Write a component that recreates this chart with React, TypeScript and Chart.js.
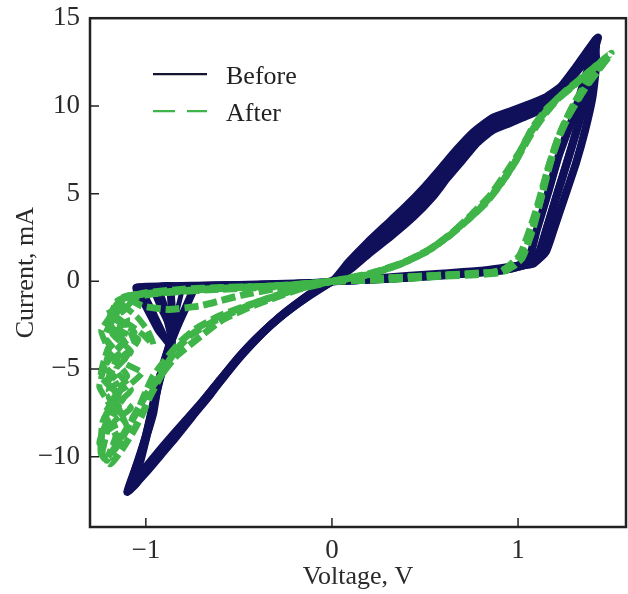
import React, { useEffect, useRef } from 'react';
import { Chart, registerables } from 'chart.js';

Chart.register(...registerables);

// ---------- data ----------
const xTicks = [-1, 0, 1];
const yTicks = [-10, -5, 0, 5, 10, 15];
const xMin = -1.3;
const xMax = 1.58;
const yMin = -14;
const yMax = 15;
const seriesNames = ['Before', 'After'];
const xTitle = 'Voltage, V';
const yTitle = 'Current, mA';

// "Before" cycles (voltage V, current mA)
const before1 = [
  [0, 0], [0.2, 0.1], [0.4, 0.2], [0.6, 0.35], [0.8, 0.5], [0.95, 0.7], [1.05, 1.0], [1.12, 1.8], [1.16, 3.2], [1.21, 5.0], [1.27, 7.0], [1.33, 9.2], [1.38, 11.4], [1.42, 13.8],
  [1.36, 12.8], [1.3, 11.9], [1.22, 10.8], [1.14, 10.2], [1.05, 9.8], [0.95, 9.4], [0.85, 9.0], [0.76, 8.2], [0.68, 7.2], [0.6, 6.2], [0.52, 5.1], [0.42, 4.0], [0.3, 2.9], [0.2, 1.9], [0.1, 0.9], [0, 0],
  [-0.2, -0.15], [-0.4, -0.2], [-0.6, -0.25], [-0.8, -0.3], [-1.05, -0.35],
  [-1.0, -1.4], [-0.93, -2.8], [-0.87, -3.7], [-0.93, -5.6], [-0.96, -7.5], [-1.02, -9.6], [-1.09, -11.8],
  [-1.03, -11.0], [-0.97, -10.2], [-0.9, -9.3], [-0.8, -8.1], [-0.7, -6.9], [-0.6, -5.6], [-0.5, -4.3], [-0.4, -3.2], [-0.3, -2.2], [-0.2, -1.35], [-0.1, -0.6], [0, 0],
];
const before2 = [
  [0, 0], [0.2, 0.15], [0.4, 0.3], [0.6, 0.45], [0.8, 0.6], [0.97, 0.85], [1.08, 1.0], [1.15, 1.7], [1.19, 2.9], [1.25, 4.8], [1.31, 6.7], [1.36, 8.6], [1.4, 10.5], [1.42, 12.4], [1.41, 13.6],
  [1.35, 12.4], [1.28, 11.5], [1.2, 10.4], [1.12, 9.8], [1.04, 9.4], [0.95, 9.0], [0.86, 8.6], [0.78, 7.9], [0.7, 6.9], [0.62, 5.9], [0.54, 4.8], [0.44, 3.7], [0.32, 2.6], [0.2, 1.6], [0.1, 0.7], [0, 0],
  [-0.2, -0.12], [-0.4, -0.18], [-0.6, -0.22], [-0.8, -0.28], [-0.93, -0.32],
  [-0.9, -1.5], [-0.87, -2.8], [-0.86, -3.6], [-0.92, -5.4], [-0.97, -7.6], [-1.03, -10.0], [-1.08, -11.6],
  [-1.01, -10.8], [-0.94, -9.9], [-0.86, -8.9], [-0.77, -7.8], [-0.67, -6.6], [-0.57, -5.3], [-0.47, -4.0], [-0.37, -2.9], [-0.27, -1.95], [-0.18, -1.2], [-0.09, -0.5], [0, 0],
];
const before3 = [
  [0, 0], [0.2, 0.1], [0.4, 0.22], [0.6, 0.38], [0.8, 0.55], [0.95, 0.75], [1.02, 1.0], [1.07, 1.7], [1.1, 2.9], [1.16, 5.0], [1.22, 7.2], [1.3, 9.5], [1.36, 11.6], [1.43, 13.9],
  [1.37, 13.1], [1.31, 12.2], [1.23, 11.1], [1.15, 10.5], [1.06, 10.1], [0.96, 9.7], [0.86, 9.3], [0.76, 8.5], [0.67, 7.5], [0.59, 6.5], [0.5, 5.4], [0.4, 4.3], [0.29, 3.2], [0.19, 2.2], [0.09, 1.1], [0, 0],
  [-0.2, -0.18], [-0.4, -0.23], [-0.6, -0.28], [-0.86, -0.32],
  [-0.86, -1.6], [-0.86, -3.0], [-0.9, -4.6], [-0.95, -6.5], [-1.0, -8.8], [-1.06, -10.8], [-1.1, -12.0],
  [-1.05, -11.5], [-0.99, -10.6], [-0.92, -9.7], [-0.83, -8.5], [-0.73, -7.3], [-0.63, -6.0], [-0.53, -4.7], [-0.43, -3.5], [-0.33, -2.5], [-0.22, -1.55], [-0.11, -0.75], [0, 0],
];
const before4 = [
  [0, 0], [0.3, 0.15], [0.6, 0.35], [0.9, 0.6], [1.04, 0.95], [1.11, 1.6], [1.15, 2.9], [1.2, 4.6], [1.26, 6.7], [1.32, 8.8], [1.38, 11.0], [1.42, 13.6],
  [1.33, 12.3], [1.25, 11.2], [1.16, 10.4], [1.06, 10.0], [0.95, 9.6], [0.85, 9.2], [0.74, 8.2], [0.64, 7.0], [0.55, 5.8], [0.45, 4.6], [0.34, 3.4], [0.22, 2.2], [0.11, 1.1], [0, 0],
  [-0.2, -0.15], [-0.4, -0.2], [-0.6, -0.24], [-0.73, -0.3],
  [-0.79, -1.6], [-0.84, -2.8], [-0.9, -4.5], [-0.95, -6.6], [-1.0, -9.0], [-1.05, -11.0], [-1.09, -11.9],
  [-1.0, -10.9], [-0.92, -9.9], [-0.84, -8.9], [-0.75, -7.7], [-0.65, -6.4], [-0.55, -5.0], [-0.45, -3.8], [-0.35, -2.7], [-0.25, -1.8], [-0.15, -1.0], [-0.07, -0.4], [0, 0],
];
const before5 = [
  [-1.02, -0.4], [-0.95, -1.9], [-0.88, -3.6], [-0.93, -5.6], [-0.98, -8.2], [-1.06, -11.2],
];
const before6 = [
  [-0.97, -0.35], [-0.92, -1.6], [-0.86, -3.1], [-0.9, -4.6],
];
const before7 = [
  [-0.8, -0.3], [-0.83, -1.6], [-0.86, -3.2],
];

// "After" cycles (voltage V, current mA)
const after1 = [
  [0, 0], [0.25, 0.15], [0.5, 0.3], [0.75, 0.45], [0.93, 0.6], [1.02, 1.3], [1.08, 3.0], [1.13, 5.0], [1.18, 7.0], [1.24, 8.8], [1.31, 10.3], [1.39, 11.7], [1.48, 12.8],
  [1.4, 12.1], [1.3, 11.2], [1.2, 10.3], [1.12, 9.3], [1.05, 8.2], [0.99, 6.9], [0.91, 5.6], [0.83, 4.5], [0.73, 3.5], [0.63, 2.6], [0.51, 1.7], [0.37, 1.0], [0.2, 0.4], [0, 0],
  [-0.2, -0.2], [-0.4, -0.3], [-0.6, -0.35], [-0.8, -0.45], [-1.0, -0.65], [-1.15, -1.1],
  [-1.2, -2.4], [-1.12, -3.4], [-1.22, -4.8], [-1.13, -6.0], [-1.22, -7.6], [-1.16, -8.8], [-1.21, -10.2],
  [-1.15, -9.2], [-1.09, -8.2], [-1.04, -7.3], [-1.0, -6.3], [-0.96, -5.4], [-0.89, -4.4], [-0.81, -3.4], [-0.73, -2.7], [-0.61, -2.0], [-0.49, -1.5], [-0.35, -1.0], [-0.22, -0.55], [-0.1, -0.2], [0, 0],
];
const after2 = [
  [0, 0], [0.3, 0.2], [0.6, 0.35], [0.85, 0.5], [0.98, 0.9], [1.05, 2.2], [1.11, 4.2], [1.16, 6.4], [1.22, 8.3], [1.29, 9.9], [1.38, 11.4], [1.47, 12.6],
  [1.38, 11.9], [1.27, 10.9], [1.16, 9.9], [1.08, 8.8], [1.01, 7.4], [0.93, 6.1], [0.85, 4.9], [0.75, 3.8], [0.63, 2.6], [0.49, 1.6], [0.35, 0.9], [0.18, 0.35], [0, 0],
  [-0.25, -0.25], [-0.5, -0.35], [-0.75, -0.5], [-0.95, -0.7], [-1.1, -1.0],
  [-1.17, -2.0], [-1.22, -3.2], [-1.15, -4.2], [-1.2, -5.6], [-1.14, -6.8], [-1.2, -8.2], [-1.23, -9.6],
  [-1.17, -9.6], [-1.11, -8.6], [-1.06, -7.6], [-1.0, -6.5], [-0.93, -5.5], [-0.84, -4.3], [-0.69, -3.0], [-0.59, -2.2], [-0.45, -1.5], [-0.3, -0.9], [-0.18, -0.45], [0, 0],
];
const after3 = [
  [0, 0], [0.3, 0.1], [0.6, 0.3], [0.9, 0.5], [1.01, 1.5], [1.09, 3.8], [1.15, 6.0], [1.21, 8.0], [1.28, 9.6], [1.36, 11.0], [1.45, 12.3], [1.5, 13.0],
  [1.42, 12.3], [1.33, 11.5], [1.24, 10.7], [1.15, 9.6], [1.07, 8.4], [1.0, 7.1], [0.93, 5.9], [0.85, 4.8], [0.76, 3.8], [0.66, 2.9], [0.54, 1.9], [0.39, 1.1], [0.22, 0.5], [0, 0],
  [-0.3, -0.25], [-0.6, -0.4], [-0.9, -0.6], [-1.12, -0.9],
  [-1.18, -1.8], [-1.1, -2.6], [-1.2, -3.8], [-1.24, -5.4], [-1.16, -6.4], [-1.23, -8.0], [-1.24, -9.8], [-1.19, -10.4],
  [-1.13, -9.6], [-1.07, -8.6], [-1.02, -7.6], [-0.98, -6.6], [-0.93, -5.6], [-0.88, -4.6], [-0.82, -3.7], [-0.75, -3.0], [-0.64, -2.3], [-0.52, -1.7], [-0.38, -1.1], [-0.24, -0.6], [-0.1, -0.2], [0, 0],
];
const after4 = [
  [0, 0], [-0.3, -0.3], [-0.6, -0.45], [-0.85, -0.6], [-1.1, -0.85],
  [-1.02, -1.4], [-0.88, -1.6], [-0.71, -1.4], [-0.6, -1.1], [-0.49, -0.8], [-0.3, -0.4], [0, 0],
];
const after5 = [
  [-1.16, -1.2], [-1.1, -2.2], [-1.18, -3.0], [-1.08, -4.0], [-1.16, -5.0], [-1.08, -6.2], [-1.15, -7.0], [-1.1, -8.4], [-1.18, -9.4],
];
const after6 = [
  [-1.12, -1.0], [-1.24, -2.8], [-1.2, -4.0], [-1.25, -6.0], [-1.19, -7.2], [-1.25, -9.2], [-1.2, -10.0],
];
const after7 = [
  [-1.13, -1.3], [-1.05, -2.0], [-0.99, -2.8], [-0.96, -3.6], [-1.02, -3.0], [-1.1, -2.4], [-1.06, -3.6], [-1.14, -4.4],
];
const after8 = [
  [-1.2, -1.6], [-1.14, -2.8], [-1.04, -3.3], [-1.12, -4.6], [-1.02, -5.2], [-1.1, -6.0], [-1.2, -6.6], [-1.12, -7.8], [-1.22, -8.6],
];
const after9 = [
  [-1.08, -1.2], [-1.16, -2.2], [-1.06, -2.9], [-1.18, -4.2], [-1.1, -5.4], [-1.2, -6.2], [-1.08, -7.2], [-1.17, -8.0], [-1.13, -9.4],
];

const beforeCycles = [before1, before2, before3, before4, before5, before6, before7];
const afterCycles = [after1, after2, after3, after4, after5, after6, after7, after8, after9];

const navy = '#10105a';
const green = '#3fb449';
const FONT = "'Liberation Serif', 'Times New Roman', serif";

const toPts = (arr: number[][]) => arr.map(([x, y]) => ({ x, y }));
const fmt = (v: number) => (v < 0 ? '\u2212' + Math.abs(v) : String(v));

const framePlugin = {
  id: 'frameTicksLegend',
  afterDraw(chart: any) {
    const { ctx, chartArea: a, scales } = chart;
    ctx.save();
    ctx.strokeStyle = '#222';
    ctx.lineWidth = 2.5;
    ctx.strokeRect(a.left, a.top, a.right - a.left, a.bottom - a.top);
    ctx.lineWidth = 1.5;
    ctx.beginPath();
    xTicks.forEach((v) => {
      const p = scales.x.getPixelForValue(v);
      ctx.moveTo(p, a.bottom);
      ctx.lineTo(p, a.bottom - 9);
    });
    yTicks.forEach((v) => {
      const p = scales.y.getPixelForValue(v);
      ctx.moveTo(a.left, p);
      ctx.lineTo(a.left + 9, p);
    });
    ctx.stroke();

    // legend
    const lx0 = a.left + 63;
    const lx1 = a.left + 117;
    const ly0 = a.top + 56;
    const ly1 = a.top + 93;
    ctx.lineWidth = 2.2;
    ctx.strokeStyle = '#141430';
    ctx.setLineDash([]);
    ctx.beginPath();
    ctx.moveTo(lx0, ly0);
    ctx.lineTo(lx1, ly0);
    ctx.stroke();
    ctx.strokeStyle = green;
    ctx.setLineDash([22, 12]);
    ctx.beginPath();
    ctx.moveTo(lx0, ly1);
    ctx.lineTo(lx1, ly1);
    ctx.stroke();
    ctx.setLineDash([]);
    ctx.fillStyle = '#222';
    ctx.font = `26px ${FONT}`;
    ctx.textBaseline = 'alphabetic';
    ctx.textAlign = 'left';
    ctx.fillText(seriesNames[0], a.left + 136, a.top + 66);
    ctx.fillText(seriesNames[1], a.left + 136, a.top + 103);
    ctx.restore();
  },
};

export default function App() {
  const ref = useRef<HTMLCanvasElement | null>(null);
  useEffect(() => {
    if (!ref.current) return;
    const datasets: any[] = [];
    beforeCycles.forEach((c, i) => {
      datasets.push({
        label: i === 0 ? seriesNames[0] : '',
        data: toPts(c),
        borderColor: navy,
        backgroundColor: navy,
        borderWidth: i >= 4 ? 5 : 8,
        borderJoinStyle: 'round',
        borderCapStyle: 'round',
        showLine: true,
        pointRadius: 0,
        tension: 0.15,
        order: 2,
      });
    });
    afterCycles.forEach((c, i) => {
      datasets.push({
        label: i === 0 ? seriesNames[1] : '',
        data: toPts(c),
        borderColor: green,
        backgroundColor: green,
        borderWidth: i >= 4 ? 6 : 7,
        borderDash: [14, 5],
        borderJoinStyle: 'round',
        showLine: true,
        pointRadius: 0,
        tension: 0.15,
        order: 1,
      });
    });
    const chart = new Chart(ref.current, {
      type: 'scatter',
      data: { datasets },
      options: {
        animation: false,
        responsive: false,
        maintainAspectRatio: false,
        devicePixelRatio: 1,
        layout: { padding: { top: 17, right: 2, left: 0, bottom: 0 } },
        plugins: { legend: { display: false }, tooltip: { enabled: false } },
        scales: {
          x: {
            type: 'linear',
            min: xMin,
            max: xMax,
            grid: { display: false },
            border: { display: false },
            afterBuildTicks: (s: any) => {
              s.ticks = xTicks.map((v) => ({ value: v }));
            },
            afterFit: (s: any) => {
              s.height = 67;
            },
            ticks: {
              padding: 0,
              color: '#2a2a2a',
              font: { family: FONT, size: 27 },
              callback: (v: any) => fmt(Number(v)),
            },
            title: {
              display: true,
              text: xTitle,
              color: '#2a2a2a',
              font: { family: FONT, size: 26 },
              padding: { top: 0, bottom: 1 },
            },
          },
          y: {
            type: 'linear',
            min: yMin,
            max: yMax,
            grid: { display: false },
            border: { display: false },
            afterBuildTicks: (s: any) => {
              s.ticks = yTicks.map((v) => ({ value: v }));
            },
            afterFit: (s: any) => {
              s.width = 90;
            },
            ticks: {
              padding: 2,
              color: '#2a2a2a',
              font: { family: FONT, size: 27 },
              callback: (v: any) => fmt(Number(v)),
            },
            title: {
              display: true,
              text: yTitle,
              color: '#2a2a2a',
              font: { family: FONT, size: 26 },
              padding: { top: 11, bottom: 0 },
            },
          },
        },
      },
      plugins: [framePlugin],
    });
    return () => chart.destroy();
  }, []);
  return (
    <div style={{ position: 'fixed', left: 0, top: 0, width: 628, height: 594, background: '#fff' }}>
      <canvas ref={ref} width={628} height={594} style={{ width: 628, height: 594, display: 'block' }} />
    </div>
  );
}
